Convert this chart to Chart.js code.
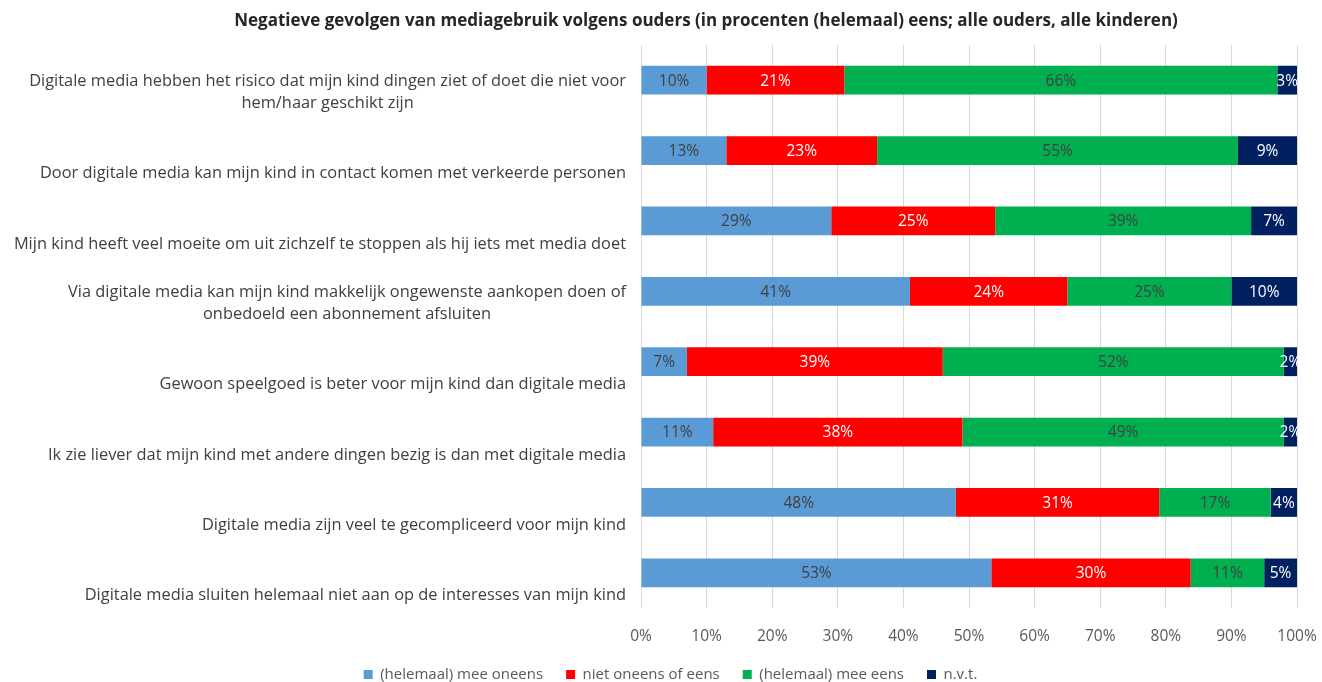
<!DOCTYPE html>
<html>
<head>
<meta charset="utf-8">
<title>Negatieve gevolgen van mediagebruik</title>
<script src="https://cdn.jsdelivr.net/npm/chart.js@4"></script>
<style>
    html, body { margin: 0; padding: 0; background: #ffffff; }
    #wrap { width: 1322px; height: 682px; }
</style>
</head>
<body>
<div id="wrap"><canvas id="chart" width="1322" height="682"></canvas></div>
<script>
// Chart data
const chartTitle = "Negatieve gevolgen van mediagebruik volgens ouders (in procenten (helemaal) eens; alle ouders, alle kinderen)";

const categories = [
    ["Digitale media hebben het risico dat mijn kind dingen ziet of doet die niet voor", "hem/haar geschikt zijn"],
    ["Door digitale media kan mijn kind in contact komen met verkeerde personen"],
    ["Mijn kind heeft veel moeite om uit zichzelf te stoppen als hij iets met media doet"],
    ["Via digitale media kan mijn kind makkelijk ongewenste aankopen doen of", "onbedoeld een abonnement afsluiten"],
    ["Gewoon speelgoed is beter voor mijn kind dan digitale media"],
    ["Ik zie liever dat mijn kind met andere dingen bezig is dan met digitale media"],
    ["Digitale media zijn veel te gecompliceerd voor mijn kind"],
    ["Digitale media sluiten helemaal niet aan op de interesses van mijn kind"]
];

const seriesNames = ["(helemaal) mee oneens", "niet oneens of eens", "(helemaal) mee eens", "n.v.t."];

const meeOneens = [10, 13, 29, 41, 7, 11, 48, 53.4];
const nietOneensOfEens = [21, 23, 25, 24, 39, 38, 31, 30.4];
const meeEens = [66, 55, 39, 25, 52, 49, 17, 11.2];
const nvt = [3, 9, 7, 10, 2, 2, 4, 5];

const xTickValues = [0, 10, 20, 30, 40, 50, 60, 70, 80, 90, 100];

const barColors = ["#5B9BD5", "#FF0000", "#00B050", "#002060"];
const valueColors = ["#404040", "#ffffff", "#404040", "#ffffff"];

const FONT = "'Open Sans'";

// Title drawn a bit right of center, like the original
const titlePlugin = {
    id: "titlePlugin",
    afterDraw(chart) {
        const ctx = chart.ctx;
        ctx.save();
        ctx.font = "bold 17px " + FONT;
        ctx.fillStyle = "#262626";
        ctx.textAlign = "center";
        ctx.textBaseline = "middle";
        ctx.fillText(chartTitle, chart.width / 2 + 45, 21);
        ctx.restore();
    }
};

// Category labels: lines centered among themselves, block right-aligned
const categoryLabels = {
    id: "categoryLabels",
    afterDraw(chart) {
        const ctx = chart.ctx;
        const yScale = chart.scales.y;
        ctx.save();
        ctx.font = "16.4px " + FONT;
        ctx.fillStyle = "#404040";
        ctx.textAlign = "center";
        ctx.textBaseline = "middle";
        categories.forEach((lines, i) => {
            const yc = yScale.getPixelForValue(i);
            const maxW = Math.max(...lines.map(l => ctx.measureText(l).width));
            const cx = chart.chartArea.left - 15 - maxW / 2;
            lines.forEach((line, k) => {
                ctx.fillText(line, cx, yc + 23 - (lines.length - 1 - k) * 22);
            });
        });
        ctx.restore();
    }
};

// Value labels inside each segment
const segmentLabels = {
    id: "segmentLabels",
    afterDatasetsDraw(chart) {
        const ctx = chart.ctx;
        ctx.save();
        ctx.font = "15.5px " + FONT;
        ctx.textAlign = "center";
        ctx.textBaseline = "middle";
        chart.data.datasets.forEach((ds, di) => {
            const meta = chart.getDatasetMeta(di);
            meta.data.forEach((bar, i) => {
                ctx.fillStyle = valueColors[di];
                ctx.fillText(Math.round(ds.data[i]) + "%", (bar.x + bar.base) / 2, bar.y + 1);
            });
        });
        ctx.restore();
    }
};

const seriesData = [meeOneens, nietOneensOfEens, meeEens, nvt];

new Chart(document.getElementById("chart"), {
    type: "bar",
    data: {
        labels: categories.map(l => l.join(" ")),
        datasets: seriesNames.map((name, i) => ({
            label: name,
            data: seriesData[i],
            backgroundColor: barColors[i],
            borderWidth: 0,
            barPercentage: 0.41,
            categoryPercentage: 1
        }))
    },
    options: {
        indexAxis: "y",
        responsive: false,
        animation: false,
        layout: { padding: { left: 44, right: 25, top: 45, bottom: 0 } },
        scales: {
            x: {
                stacked: true,
                min: 0,
                max: 100,
                afterBuildTicks(scale) {
                    scale.ticks = xTickValues.map(v => ({ value: v }));
                },
                afterFit(scale) {
                    scale.height = 36;
                    scale.paddingLeft = 0;
                    scale.paddingRight = 0;
                },
                ticks: {
                    callback: v => v + "%",
                    color: "#595959",
                    font: { family: FONT, size: 15.5 },
                    padding: 19,
                    maxRotation: 0
                },
                grid: { color: "#D9D9D9", drawTicks: false },
                border: { display: false }
            },
            y: {
                stacked: true,
                afterFit(scale) {
                    scale.width = 597;
                },
                ticks: { display: false },
                grid: { display: false },
                border: { display: false }
            }
        },
        plugins: {
            legend: {
                position: "bottom",
                maxHeight: 38,
                labels: {
                    boxWidth: 9,
                    boxHeight: 9,
                    padding: 23,
                    color: "#595959",
                    font: { family: FONT, size: 15 }
                }
            },
            tooltip: { enabled: false }
        }
    },
    plugins: [titlePlugin, categoryLabels, segmentLabels]
});
</script>
</body>
</html>
